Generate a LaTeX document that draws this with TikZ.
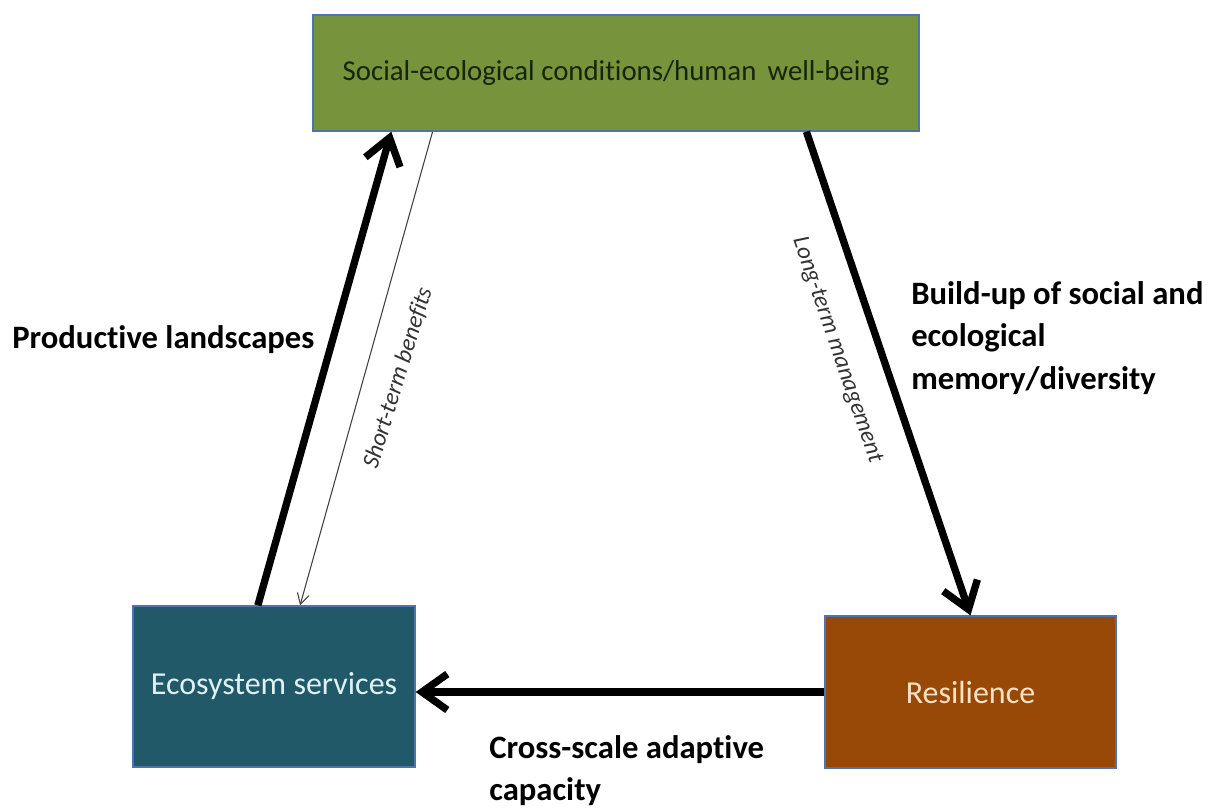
\documentclass[tikz,border=0pt]{standalone}
\usepackage{fontspec}
\setmainfont[Ligatures=NoCommon]{Carlito}
\usetikzlibrary{arrows.meta,calc}

\definecolor{boxgreen}{HTML}{77933C}
\definecolor{boxteal}{HTML}{215968}
\definecolor{boxbrown}{HTML}{984807}
\definecolor{boxedge}{HTML}{4F74AD}
\definecolor{greentext}{HTML}{16240A}
\definecolor{tealtext}{HTML}{DDF1F6}
\definecolor{browntext}{HTML}{FCE3C6}

\tikzset{
  box/.style={rectangle, draw=boxedge, line width=1pt, inner sep=0pt},
  boldlabel/.style={inner sep=0pt, font=\fontsize{24.5}{32}\selectfont\bfseries, align=left},
  slantlabel/.style={inner sep=0pt, font=\fontsize{18}{20}\selectfont\itshape, text=black!80},
  mainarrow/.style={line width=5.5pt, -{Straight Barb[length=19pt, width=27pt]}},
  thinarrow/.style={line width=0.8pt, draw=black!75, -{Straight Barb[length=8pt, width=9pt]}}
}

\begin{document}
\begin{tikzpicture}[x=0.75pt, y=-0.75pt]
  \useasboundingbox (0,0) rectangle (1220,808);

  % the three boxes
  \node[box, fill=boxgreen, minimum width=454.5pt, minimum height=87pt,
        font=\fontsize{21.6}{24}\selectfont, text=greentext]
        (top) at (616,73) {Social-ecological conditions/human \,well-being};
  \node[box, fill=boxteal, minimum width=211.5pt, minimum height=120.75pt,
        font=\fontsize{24}{28}\selectfont, text=tealtext]
        (eco) at (274,686.5) {Ecosystem services};
  \node[box, fill=boxbrown, minimum width=218.25pt, minimum height=114pt,
        font=\fontsize{24}{28}\selectfont, text=browntext]
        (res) at (970.5,692) {Resilience};

  % connectors
  \draw[mainarrow] ($(eco.north west)!0.443!(eco.north east)$)
                -- ($(top.south west)!0.130!(top.south east)$);
  \draw[thinarrow] ($(top.south west)!0.198!(top.south east)$)
                -- ($(eco.north west)!0.592!(eco.north east)$);
  \draw[mainarrow] ($(top.south west)!0.8135!(top.south east)$) -- (res.north);
  \draw[mainarrow] (res.west) -- (eco.east |- res.west);

  % labels
  \node[boldlabel, anchor=base west] (prod) at (12,348) {Productive landscapes};
  \node[boldlabel, anchor=north west] (build) at (911,281)
        {Build-up of social and\\ecological\\memory/diversity};
  \node[boldlabel, anchor=north west] (cross) at (489,735)
        {Cross-scale adaptive\\capacity};
  \node[slantlabel, rotate=73] (short) at (398,378) {Short-term benefits};
  \node[slantlabel, rotate=-71] (long) at (837,350) {Long-term management};
\end{tikzpicture}
\end{document}
